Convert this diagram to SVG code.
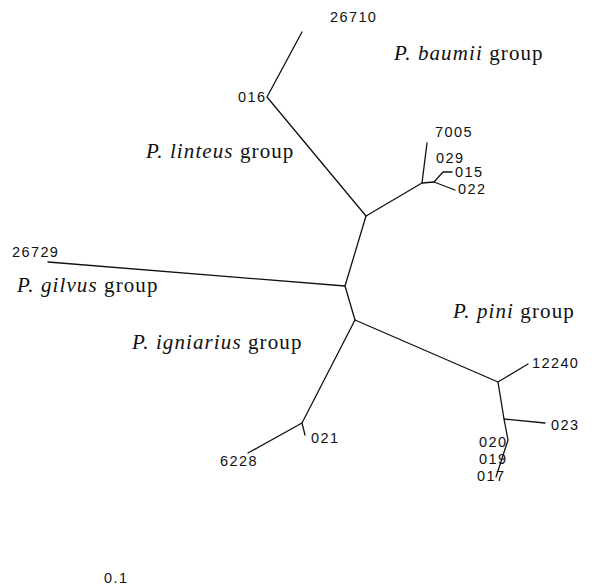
<svg xmlns="http://www.w3.org/2000/svg" width="595" height="588" viewBox="0 0 595 588">
  <style>
    .br { fill: none; stroke: #111; stroke-width: 1.3; stroke-linejoin: round; stroke-linecap: round; }
    .lf { font-family: "Liberation Sans", Arial, sans-serif; font-size: 14.5px; letter-spacing: 1.4px; fill: #111; }
    .grp { font-family: "Liberation Serif", "Times New Roman", serif; font-size: 21px; letter-spacing: 1.1px; fill: #111; }
    .grp tspan.sp { font-style: italic; }
  </style>
  <rect width="595" height="588" fill="#fff"/>

  <!-- branches of the unrooted tree -->
  <g id="connectors">
    <!-- P. baumii clade -->
    <polyline class="br" points="302,32 267,97 366,216"/>
    <!-- P. linteus clade -->
    <polyline class="br" points="366,216 422,183 427,143"/>
    <polyline class="br" points="422,183 434,182 455,190"/>
    <polyline class="br" points="434,182 443,172 452,172"/>
    <!-- backbone -->
    <polyline class="br" points="366,216 345,286 355,320"/>
    <!-- P. gilvus -->
    <line class="br" x1="48" y1="262" x2="345" y2="286"/>
    <!-- P. pini clade -->
    <polyline class="br" points="355,320 498,382 528,364"/>
    <polyline class="br" points="498,382 504,419 545,423"/>
    <polyline class="br" points="504,419 508,440 496,477"/>
    <!-- P. igniarius clade -->
    <polyline class="br" points="355,320 302,423 248,453"/>
    <line class="br" x1="302" y1="423" x2="305" y2="435"/>
  </g>

  <!-- leaf labels -->
  <g id="leaf-26710"><text class="lf" x="330" y="22">26710</text></g>
  <g id="leaf-016"><text class="lf" x="238" y="102">016</text></g>
  <g id="leaf-7005"><text class="lf" x="435" y="137">7005</text></g>
  <g id="leaf-029"><text class="lf" x="436" y="163">029</text></g>
  <g id="leaf-015"><text class="lf" x="455" y="177">015</text></g>
  <g id="leaf-022"><text class="lf" x="458" y="194">022</text></g>
  <g id="leaf-26729"><text class="lf" x="12" y="257">26729</text></g>
  <g id="leaf-12240"><text class="lf" x="532" y="368">12240</text></g>
  <g id="leaf-023"><text class="lf" x="551" y="430">023</text></g>
  <g id="leaf-020"><text class="lf" x="479" y="447">020</text></g>
  <g id="leaf-019"><text class="lf" x="479" y="464">019</text></g>
  <g id="leaf-017"><text class="lf" x="477" y="481">017</text></g>
  <g id="leaf-021"><text class="lf" x="311" y="443">021</text></g>
  <g id="leaf-6228"><text class="lf" x="220" y="466">6228</text></g>

  <!-- clade names -->
  <g id="group-baumii"><text class="grp" x="394" y="60"><tspan class="sp">P. baumii</tspan> group</text></g>
  <g id="group-linteus"><text class="grp" x="146" y="158"><tspan class="sp">P. linteus</tspan> group</text></g>
  <g id="group-gilvus"><text class="grp" x="17" y="292"><tspan class="sp">P. gilvus</tspan> group</text></g>
  <g id="group-pini"><text class="grp" x="453" y="318"><tspan class="sp">P. pini</tspan> group</text></g>
  <g id="group-igniarius"><text class="grp" x="132" y="349"><tspan class="sp">P. igniarius</tspan> group</text></g>

  <!-- scale -->
  <g id="scale"><text class="lf" x="104" y="583">0.1</text></g>
</svg>
